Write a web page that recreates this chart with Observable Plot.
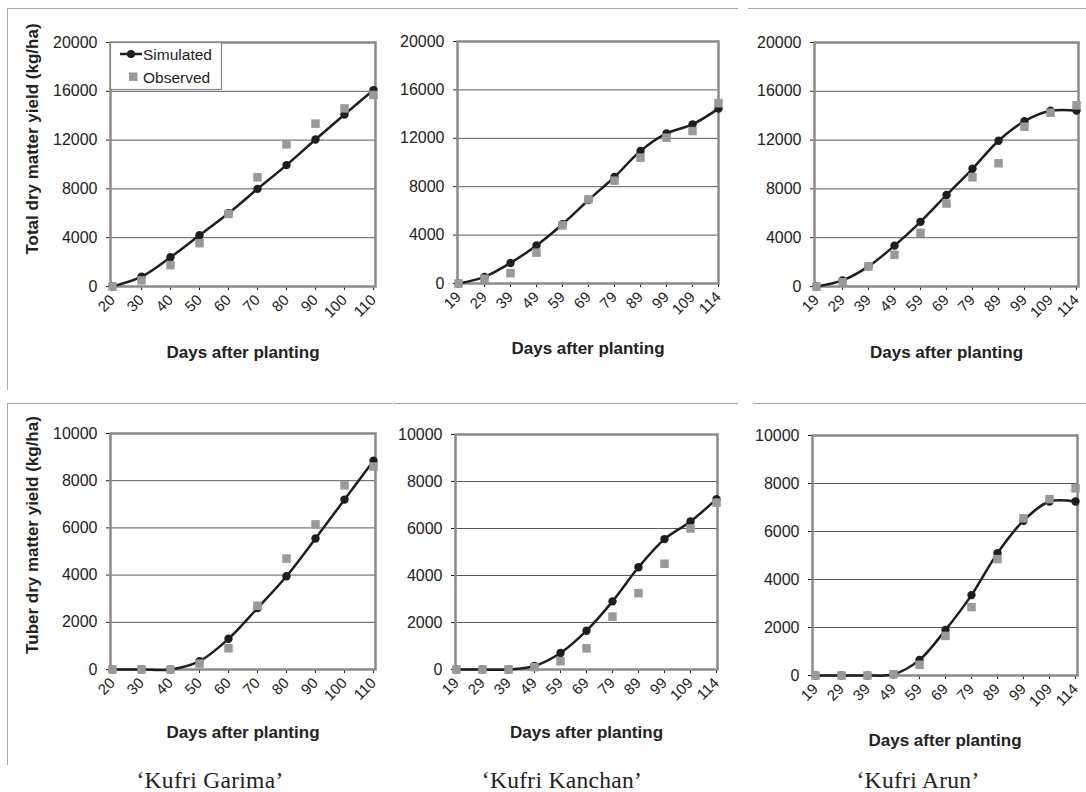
<!DOCTYPE html>
<html>
<head>
<meta charset="utf-8">
<script src="https://cdn.jsdelivr.net/npm/d3@7"></script>
<script src="https://cdn.jsdelivr.net/npm/@observablehq/plot@0.6"></script>
<style>
  html, body { margin: 0; padding: 0; background: #fff; }
  #root { position: relative; width: 1086px; height: 792px; overflow: hidden; background: #fff; font-family: "Liberation Sans", Arial, sans-serif; }
  .edge { position: absolute; background: #a8a8a8; }
  .cap { position: absolute; width: 300px; text-align: center; font-family: "Liberation Serif", "Times New Roman", serif; font-size: 23.5px; letter-spacing: 0.3px; line-height: 22px; color: #222; }
  .ytitle { position: absolute; width: 300px; height: 20px; line-height: 20px; text-align: center; font-weight: bold; font-size: 17px; color: #222; transform-origin: 150px 10px; transform: rotate(-90deg); white-space: nowrap; }
</style>
</head>
<body>
<div id="root"></div>
<script>
// ---- Data ----
const daysGarima = [20, 30, 40, 50, 60, 70, 80, 90, 100, 110];
const daysKanchanArun = [19, 29, 39, 49, 59, 69, 79, 89, 99, 109, 114];

const totalTicks = [0, 4000, 8000, 12000, 16000, 20000];
const tuberTicks = [0, 2000, 4000, 6000, 8000, 10000];

// Total dry matter yield (kg/ha)
const garimaTotalSim = [0, 800, 2400, 4200, 6000, 8000, 9950, 12050, 14100, 16100];
const garimaTotalObs = [0, 500, 1750, 3550, 5950, 8950, 11650, 13350, 14600, 15700];
const kanchanTotalSim = [0, 550, 1700, 3150, 4900, 6900, 8800, 10950, 12400, 13150, 14450];
const kanchanTotalObs = [0, 400, 850, 2550, 4800, 6950, 8500, 10400, 12050, 12600, 14900];
const arunTotalSim = [0, 500, 1650, 3350, 5300, 7500, 9650, 11950, 13550, 14400, 14420];
const arunTotalObs = [0, 350, 1650, 2600, 4400, 6800, 8950, 10100, 13100, 14250, 14850];

// Tuber dry matter yield (kg/ha)
const garimaTuberSim = [0, 0, 0, 350, 1300, 2600, 3950, 5550, 7200, 8850];
const garimaTuberObs = [0, 0, 0, 250, 900, 2700, 4700, 6150, 7800, 8600];
const kanchanTuberSim = [0, 0, 0, 150, 700, 1650, 2900, 4350, 5550, 6300, 7250];
const kanchanTuberObs = [0, 0, 0, 100, 350, 900, 2250, 3250, 4500, 6000, 7100];
const arunTuberSim = [0, 0, 0, 50, 650, 1900, 3350, 5100, 6450, 7250, 7250];
const arunTuberObs = [0, 0, 0, 50, 450, 1650, 2850, 4850, 6550, 7350, 7800];

const xTitle = "Days after planting";
const yTitleTotal = "Total dry matter yield (kg/ha)";
const yTitleTuber = "Tuber dry matter yield (kg/ha)";
const captions = ["\u2018Kufri Garima\u2019", "\u2018Kufri Kanchan\u2019", "\u2018Kufri Arun\u2019"];
const legendLabels = ["Simulated", "Observed"];

// ---- Layout ----
const root = document.getElementById("root");

function edge(left, top, w, h) {
  const d = document.createElement("div");
  d.className = "edge";
  Object.assign(d.style, {left: left + "px", top: top + "px", width: w + "px", height: h + "px"});
  root.appendChild(d);
}
edge(7, 8, 731, 1); edge(748, 8, 338, 1); edge(7, 8, 1, 382);
edge(7, 403, 385, 1); edge(393, 403, 345, 1); edge(753, 403, 333, 1); edge(7, 403, 1, 362);

function rows(days, sim, obs) {
  return days.map((d, i) => ({day: d, sim: sim[i], obs: obs[i]}));
}

const panels = [
  {left: 0, top: 0, width: 390, height: 380, ml: 110, mt: 42, mr: 15, mb: 94, days: daysGarima, sim: garimaTotalSim, obs: garimaTotalObs, ticks: totalTicks, ymax: 20000, xdy: 71},
  {left: 380, top: 0, width: 350, height: 380, ml: 77, mt: 41, mr: 12, mb: 97, days: daysKanchanArun, sim: kanchanTotalSim, obs: kanchanTotalObs, ticks: totalTicks, ymax: 20000, xdy: 70},
  {left: 740, top: 0, width: 346, height: 380, ml: 74, mt: 42, mr: 8, mb: 94, days: daysKanchanArun, sim: arunTotalSim, obs: arunTotalObs, ticks: totalTicks, ymax: 20000, xdy: 71},
  {left: 0, top: 390, width: 390, height: 370, ml: 110, mt: 43, mr: 15, mb: 91, days: daysGarima, sim: garimaTuberSim, obs: garimaTuberObs, ticks: tuberTicks, ymax: 10000, xdy: 68},
  {left: 380, top: 390, width: 350, height: 370, ml: 75, mt: 44, mr: 13, mb: 91, days: daysKanchanArun, sim: kanchanTuberSim, obs: kanchanTuberObs, ticks: tuberTicks, ymax: 10000, xdy: 68},
  {left: 740, top: 390, width: 346, height: 370, ml: 72, mt: 45, mr: 9, mb: 85, days: daysKanchanArun, sim: arunTuberSim, obs: arunTuberObs, ticks: tuberTicks, ymax: 10000, xdy: 70}
];

for (const p of panels) {
  const data = rows(p.days, p.sim, p.obs);
  const marks = [
    Plot.ruleY(p.ticks.slice(1), {stroke: "#5a5a5a", strokeWidth: 1}),
    Plot.frame({stroke: "#8a8a8a", strokeWidth: 2.5}),
    Plot.line(data, {x: "day", y: "sim", curve: "catmull-rom", stroke: "#1e1e1e", strokeWidth: 2.5}),
    Plot.dot(data, {x: "day", y: "sim", symbol: "circle", r: 4.2, fill: "#1e1e1e", stroke: "none"}),
    Plot.dot(data, {x: "day", y: "obs", symbol: "square", r: 4.8, fill: "#999999", stroke: "none"}),
    Plot.text([xTitle], {frameAnchor: "bottom", dy: p.xdy, text: d => d, fontWeight: "bold", fontSize: 17, fill: "#222"})
  ];
  const svg = Plot.plot({
    width: p.width,
    height: p.height,
    marginLeft: p.ml,
    marginTop: p.mt,
    marginRight: p.mr,
    marginBottom: p.mb,
    style: {position: "absolute", left: p.left + "px", top: p.top + "px", background: "transparent", overflow: "visible", fontFamily: "'Liberation Sans', Arial, sans-serif", fontSize: "16px", color: "#222"},
    x: {type: "point", domain: p.days, padding: 0, tickRotate: -45, tickSize: 4, tickPadding: 7, label: null},
    y: {domain: [0, p.ymax], ticks: p.ticks, tickSize: 4, tickPadding: 9, label: null, tickFormat: d => String(d)},
    marks
  });
  svg.querySelectorAll('g[aria-label^="x-axis"]').forEach(g => { g.style.fontSize = "15px"; });
  root.appendChild(svg);
}

// Y axis titles (rotated text, left column)
[[yTitleTotal, 139], [yTitleTuber, 535]].forEach(([t, cy]) => {
  const d = document.createElement("div");
  d.className = "ytitle";
  d.textContent = t;
  d.style.left = (33 - 150) + "px";
  d.style.top = (cy - 10) + "px";
  root.appendChild(d);
});

// Legend (top-left panel)
const leg = document.createElementNS("http://www.w3.org/2000/svg", "svg");
leg.setAttribute("width", 112);
leg.setAttribute("height", 48);
Object.assign(leg.style, {position: "absolute", left: "110px", top: "42px", overflow: "visible"});
leg.innerHTML = `
  <rect x="0.5" y="0.5" width="111" height="47" fill="#fff" stroke="#8a8a8a" stroke-width="1.2"/>
  <line x1="10" y1="12" x2="32" y2="12" stroke="#1e1e1e" stroke-width="2.5"/>
  <circle cx="21" cy="12" r="4" fill="#1e1e1e"/>
  <rect x="19" y="30.5" width="8.5" height="8.5" fill="#999"/>
  <text x="33" y="17.5" font-family="Liberation Sans, Arial, sans-serif" font-size="15.5" fill="#222">${legendLabels[0]}</text>
  <text x="33" y="40.5" font-family="Liberation Sans, Arial, sans-serif" font-size="15.5" fill="#222">${legendLabels[1]}</text>`;
root.appendChild(leg);

// Captions
const capX = [210, 562, 918];
captions.forEach((c, i) => {
  const d = document.createElement("div");
  d.className = "cap";
  d.textContent = c;
  d.style.left = (capX[i] - 150) + "px";
  d.style.top = "769px";
  root.appendChild(d);
});
</script>
</body>
</html>
